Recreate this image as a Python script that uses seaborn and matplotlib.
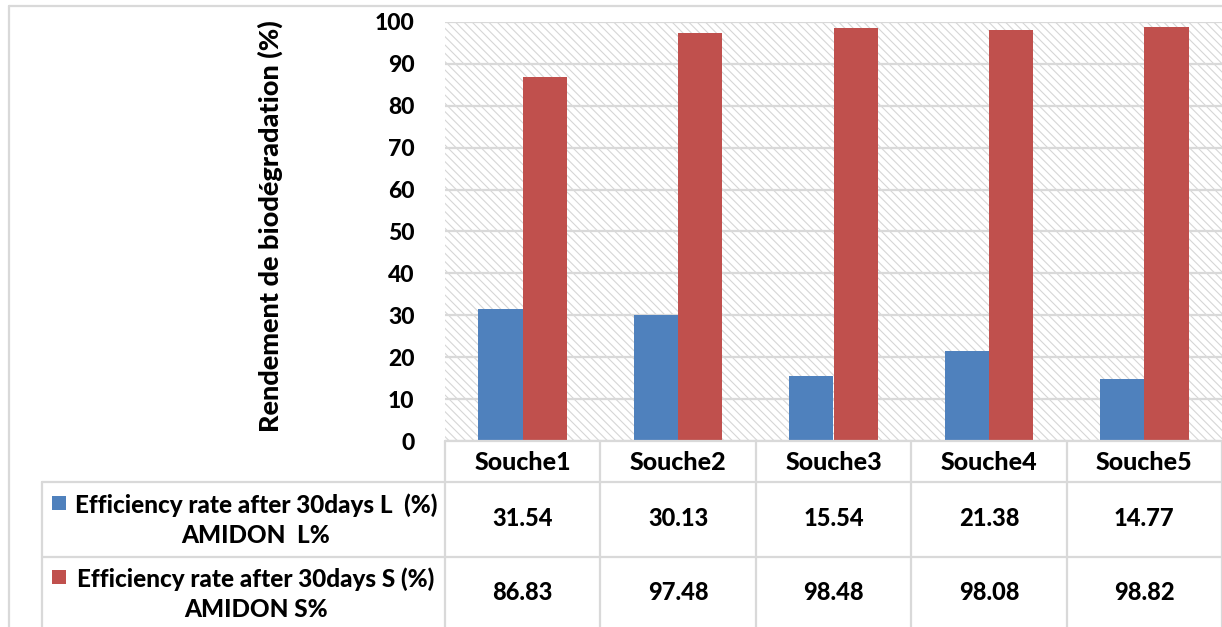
import matplotlib
matplotlib.use("Agg")
import matplotlib.pyplot as plt
import matplotlib.transforms as mtransforms
from matplotlib.lines import Line2D
from matplotlib.patches import Rectangle
import numpy as np
import pandas as pd
import seaborn as sns

# ---- data ----
strains = ["Souche1", "Souche2", "Souche3", "Souche4", "Souche5"]
rate_L = [31.54, 30.13, 15.54, 21.38, 14.77]
rate_S = [86.83, 97.48, 98.48, 98.08, 98.82]
series_names = [
    "Efficiency rate after 30days L  (%)\nAMIDON  L%",
    "Efficiency rate after 30days S (%)\nAMIDON S%",
]
y_label = "Rendement de biodégradation (%)"
y_ticks = list(range(0, 101, 10))

colors = ["#4F81BD", "#C0504D"]
grid_col = "#D9D9D9"
FONT = ["Lato", "DejaVu Sans"]
WEIGHT = 900

sns.set_theme(style="white")
plt.rcParams["font.family"] = FONT
plt.rcParams["hatch.linewidth"] = 0.8
plt.rcParams["hatch.color"] = "#D3D3D3"

W, H = 1222, 627
fig = plt.figure(figsize=(W / 100, H / 100), dpi=100)


def fx(px):
    return px / W


def fy(py):
    return 1 - py / H


ax_left, ax_right, ax_top, ax_bottom = 445, 1222, 22, 441
ax = fig.add_axes([fx(ax_left), fy(ax_bottom), fx(ax_right - ax_left), (ax_bottom - ax_top) / H])

df = pd.DataFrame({
    "strain": strains * 2,
    "value": rate_L + rate_S,
    "series": [series_names[0]] * len(strains) + [series_names[1]] * len(strains),
})

sns.barplot(data=df, x="strain", y="value", hue="series", order=strains,
            hue_order=series_names, palette=colors, width=0.57, saturation=1,
            edgecolor="none", linewidth=0, legend=False, ax=ax, zorder=3)

# hatched plot-area background
ax.add_patch(Rectangle((0, 0), 1, 1, transform=ax.transAxes, facecolor="white",
                       edgecolor="#D6D6D6", hatch="\\" * 4, linewidth=0, zorder=0.2))

ax.set_xlim(-0.5, len(strains) - 0.5)
ax.set_ylim(0, 100)
ax.set_yticks(y_ticks)
ax.set_yticklabels([str(t) for t in y_ticks], fontsize=16.5, fontweight=WEIGHT, color="black")
ax.tick_params(axis="y", length=0, pad=22)
ax.set_xticks([])
ax.set_xlabel("")
ax.set_ylabel("")
ax.set_axisbelow(True)
ax.yaxis.grid(True, color=grid_col, linewidth=1.6, zorder=0.5)
ax.xaxis.grid(False)
for s in ax.spines.values():
    s.set_visible(False)

fig.text(fx(270), fy(226), y_label, rotation=90, ha="center", va="center",
         fontsize=19.5, fontweight=WEIGHT, color="black")

# ---- data table below the axis ----
bt = mtransforms.blended_transform_factory(ax.transData, fig.transFigure)


def hline(x0, x1, y):
    fig.add_artist(Line2D([fx(x0), fx(x1)], [fy(y), fy(y)], color=grid_col, lw=1.6,
                          transform=fig.transFigure))


def vline_px(x, y0, y1):
    fig.add_artist(Line2D([fx(x), fx(x)], [fy(y0), fy(y1)], color=grid_col, lw=1.6,
                          transform=fig.transFigure))


def vline_data(x, y0, y1):
    fig.add_artist(Line2D([x, x], [fy(y0), fy(y1)], color=grid_col, lw=1.6, transform=bt))


row_top, row1, row2, row_end = 441, 482, 557, 640

# outer frame
hline(9, W + 5, 6)
vline_px(9, 6, H + 5)

hline(ax_left, W, row_top)
hline(42, W, row1)
hline(42, W, row2)
vline_px(42, row1, row_end)
for k in range(len(strains) + 1):
    vline_data(k - 0.5, row_top, row_end)

for i, name in enumerate(strains):
    fig.text(i, fy(462), name, transform=bt, ha="center", va="center",
             fontsize=18, fontweight=WEIGHT, color="black")
    fig.text(i, fy(519), f"{rate_L[i]:.2f}", transform=bt, ha="center", va="center",
             fontsize=17, fontweight=WEIGHT, color="black")
    fig.text(i, fy(593), f"{rate_S[i]:.2f}", transform=bt, ha="center", va="center",
             fontsize=17, fontweight=WEIGHT, color="black")

# series keys in the table's first column
for (ytxt, ysq), name, c in zip([(520, 503), (594, 577)], series_names, colors):
    fig.add_artist(Rectangle((fx(52), fy(ysq + 7)), fx(14), 14 / H, transform=fig.transFigure,
                             facecolor=c, edgecolor="none"))
    fig.text(fx(256), fy(ytxt), name, ha="center", va="center", multialignment="center",
             fontsize=17.5, fontweight=WEIGHT, color="black", linespacing=1.4)

fig.savefig("out.png", dpi=100)
